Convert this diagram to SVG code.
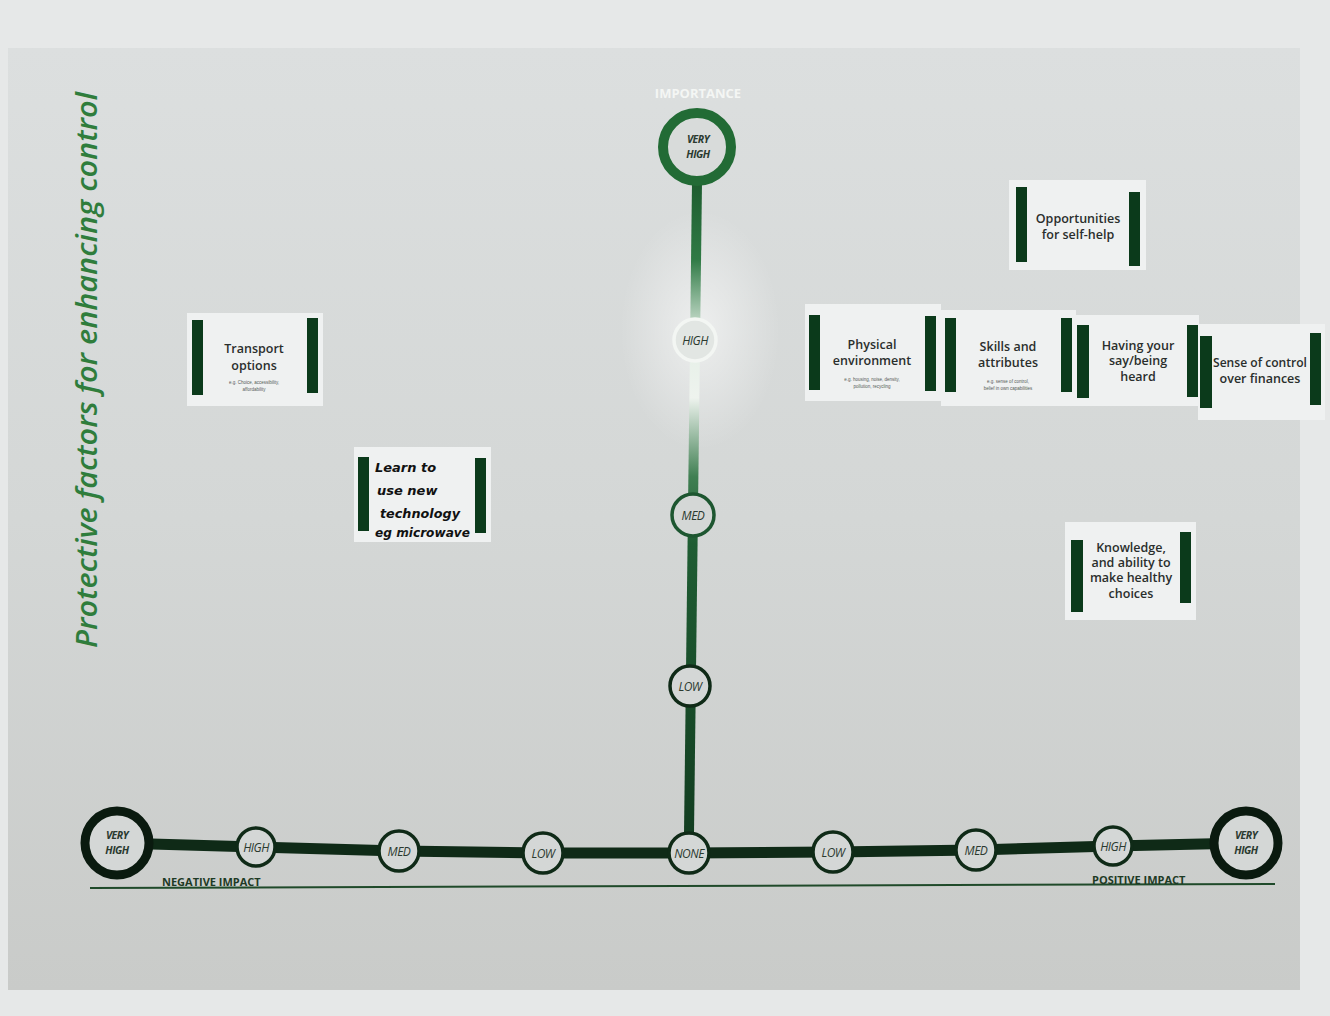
<svg xmlns="http://www.w3.org/2000/svg" width="1330" height="1016" viewBox="0 0 1330 1016">
<defs>
<linearGradient id="poster" x1="0" y1="0" x2="0" y2="1">
<stop offset="0" stop-color="#dcdfdf"/>
<stop offset="0.5" stop-color="#d4d7d6"/>
<stop offset="1" stop-color="#c9cbc9"/>
</linearGradient>
<linearGradient id="vline" gradientUnits="userSpaceOnUse" x1="0" y1="180" x2="0" y2="840">
<stop offset="0" stop-color="#1d5b2e"/>
<stop offset="0.12" stop-color="#2f7a45"/>
<stop offset="0.24" stop-color="#e4efe6"/>
<stop offset="0.33" stop-color="#eef3ee"/>
<stop offset="0.45" stop-color="#3f7f52"/>
<stop offset="0.55" stop-color="#1f5d33"/>
<stop offset="1" stop-color="#123d20"/>
</linearGradient>
<radialGradient id="glare" cx="0.5" cy="0.5" r="0.5">
<stop offset="0" stop-color="#ffffff" stop-opacity="0.55"/>
<stop offset="1" stop-color="#ffffff" stop-opacity="0"/>
</radialGradient>
<style>
.card{fill:#eff1f1}
.bar{fill:#0b3a1b}
.ct{font-family:"Open Sans","Liberation Sans",sans-serif;font-size:12.5px;font-weight:600;fill:#2a2e2c;text-anchor:middle}
.sub{font-family:"Liberation Sans",sans-serif;font-size:4.5px;fill:#555a57;text-anchor:middle}
.hand{font-family:"DejaVu Sans",sans-serif;font-size:13px;font-style:italic;font-weight:bold;fill:#111;}
.ring{fill:#d4d7d6;stroke:#0f2a17;stroke-width:3.5}
.big{fill:#d4d7d6;stroke:#0a1a0f;stroke-width:9}
.lab{font-family:"Open Sans","Liberation Sans",sans-serif;font-style:italic;font-size:12px;fill:#2b3a30;text-anchor:middle;letter-spacing:-0.5px}
.lab2{font-family:"Open Sans","Liberation Sans",sans-serif;font-style:italic;font-weight:bold;font-size:10.5px;fill:#2b3a30;text-anchor:middle;letter-spacing:-0.5px}
.ax{font-family:"Open Sans","Liberation Sans",sans-serif;font-weight:bold;font-size:11px;fill:#1e3a25}
</style>
</defs>
<rect x="0" y="0" width="1330" height="1016" fill="#e6e8e8"/>
<rect x="8" y="48" width="1292" height="942" fill="url(#poster)"/>
<ellipse cx="700" cy="330" rx="80" ry="120" fill="url(#glare)"/>
<text transform="translate(97,648) rotate(-90)" font-family="Open Sans, Liberation Sans, sans-serif" font-style="italic" font-weight="600" font-size="29" fill="#2f7d3c" textLength="556" lengthAdjust="spacingAndGlyphs">Protective factors for enhancing control</text>
<text x="698" y="98" font-family="Open Sans, Liberation Sans, sans-serif" font-weight="bold" font-size="13" fill="#f4f6f4" text-anchor="middle">IMPORTANCE</text>
<g id="connectors">
<path d="M697,182 L689,834" stroke="url(#vline)" stroke-width="10" fill="none"/>
<polyline points="117,843 256,847 399,851 543,853 689,853 833,852 976,850 1113,846 1246,843" fill="none" stroke="#0f2a17" stroke-width="11"/>
<line x1="90" y1="888" x2="1275" y2="884" stroke="#1f4a2a" stroke-width="2"/>
</g>
<text class="ax" x="162" y="886">NEGATIVE IMPACT</text>
<text class="ax" x="1092" y="884">POSITIVE IMPACT</text>
<g id="v-veryhigh"><circle cx="697" cy="147" r="34" fill="#d8dbda" stroke="#226b35" stroke-width="10"/><text class="lab2" x="698" y="143" fill="#3b4a40">VERY</text><text class="lab2" x="698" y="158" fill="#3b4a40">HIGH</text></g>
<g id="v-high"><circle cx="695" cy="340" r="21" fill="#e2e6e3" stroke="#f3f6f3" stroke-width="3.5"/><text class="lab" x="695" y="345" fill="#f7f9f7">HIGH</text></g>
<g id="v-med"><circle cx="693" cy="515" r="21" fill="#d4d7d6" stroke="#1d5630" stroke-width="3.5"/><text class="lab" x="693" y="520">MED</text></g>
<g id="v-low"><circle cx="690" cy="686" r="20" class="ring"/><text class="lab" x="690" y="691">LOW</text></g>
<g id="h-none"><circle cx="689" cy="853" r="20" class="ring"/><text class="lab" x="689" y="858">NONE</text></g>
<g id="neg-veryhigh"><circle cx="117" cy="843" r="32" class="big"/><text class="lab2" x="117" y="839">VERY</text><text class="lab2" x="117" y="854">HIGH</text></g>
<g id="neg-high"><circle cx="256" cy="847" r="19" class="ring"/><text class="lab" x="256" y="852">HIGH</text></g>
<g id="neg-med"><circle cx="399" cy="851" r="20" class="ring"/><text class="lab" x="399" y="856">MED</text></g>
<g id="neg-low"><circle cx="543" cy="853" r="20" class="ring"/><text class="lab" x="543" y="858">LOW</text></g>
<g id="pos-low"><circle cx="833" cy="852" r="20" class="ring"/><text class="lab" x="833" y="857">LOW</text></g>
<g id="pos-med"><circle cx="976" cy="850" r="20" class="ring"/><text class="lab" x="976" y="855">MED</text></g>
<g id="pos-high"><circle cx="1113" cy="846" r="19" class="ring"/><text class="lab" x="1113" y="851">HIGH</text></g>
<g id="pos-veryhigh"><circle cx="1246" cy="843" r="32" class="big"/><text class="lab2" x="1246" y="839">VERY</text><text class="lab2" x="1246" y="854">HIGH</text></g>

<g id="card-transport"><rect class="card" x="187" y="313" width="136" height="93"/><rect class="bar" x="192" y="320" width="11" height="75"/><rect class="bar" x="307" y="318" width="11" height="75"/><text class="ct" x="254" y="353">Transport</text><text class="ct" x="254" y="370">options</text><text class="sub" x="254" y="384">e.g. Choice, accessibility,</text><text class="sub" x="254" y="391">affordability</text></g>
<g id="card-learn"><rect class="card" x="354" y="447" width="137" height="95"/><rect class="bar" x="358" y="457" width="11" height="74"/><rect class="bar" x="475" y="458" width="11" height="75"/><text class="hand" x="375" y="472">Learn to</text><text class="hand" x="377" y="495">use new</text><text class="hand" x="380" y="518" textLength="80" lengthAdjust="spacingAndGlyphs">technology</text><text class="hand" x="375" y="537" textLength="95" lengthAdjust="spacingAndGlyphs">eg microwave</text></g>
<g id="card-selfhelp"><rect class="card" x="1009" y="180" width="137" height="90"/><rect class="bar" x="1016" y="187" width="11" height="75"/><rect class="bar" x="1129" y="192" width="11" height="74"/><text class="ct" x="1078" y="223">Opportunities</text><text class="ct" x="1078" y="239">for self-help</text></g>
<g id="card-physical"><rect class="card" x="805" y="304" width="136" height="97"/><rect class="bar" x="809" y="315" width="11" height="75"/><rect class="bar" x="925" y="316" width="11" height="75"/><text class="ct" x="872" y="349">Physical</text><text class="ct" x="872" y="365">environment</text><text class="sub" x="872" y="381">e.g. housing, noise, density,</text><text class="sub" x="872" y="388">pollution, recycling</text></g>
<g id="card-skills"><rect class="card" x="941" y="310" width="135" height="96"/><rect class="bar" x="945" y="318" width="11" height="74"/><rect class="bar" x="1061" y="318" width="11" height="74"/><text class="ct" x="1008" y="351">Skills and</text><text class="ct" x="1008" y="367">attributes</text><text class="sub" x="1008" y="383">e.g. sense of control,</text><text class="sub" x="1008" y="390">belief in own capabilities</text></g>
<g id="card-say"><rect class="card" x="1075" y="315" width="124" height="91"/><rect class="bar" x="1077" y="325" width="12" height="73"/><rect class="bar" x="1187" y="325" width="11" height="72"/><text class="ct" x="1138" y="350">Having your</text><text class="ct" x="1138" y="365">say/being</text><text class="ct" x="1138" y="381">heard</text></g>
<g id="card-finances"><rect class="card" x="1198" y="324" width="127" height="96"/><rect class="bar" x="1200" y="336" width="12" height="72"/><rect class="bar" x="1310" y="333" width="11" height="72"/><text class="ct" x="1260" y="367" textLength="94" lengthAdjust="spacingAndGlyphs">Sense of control</text><text class="ct" x="1260" y="383">over finances</text></g>
<g id="card-knowledge"><rect class="card" x="1065" y="522" width="131" height="98"/><rect class="bar" x="1071" y="540" width="12" height="72"/><rect class="bar" x="1180" y="532" width="11" height="71"/><text class="ct" x="1131" y="552" font-size="11.5">Knowledge,</text><text class="ct" x="1131" y="567" font-size="11.5">and ability to</text><text class="ct" x="1131" y="582" font-size="11.5">make healthy</text><text class="ct" x="1131" y="598" font-size="11.5">choices</text></g>
</svg>
